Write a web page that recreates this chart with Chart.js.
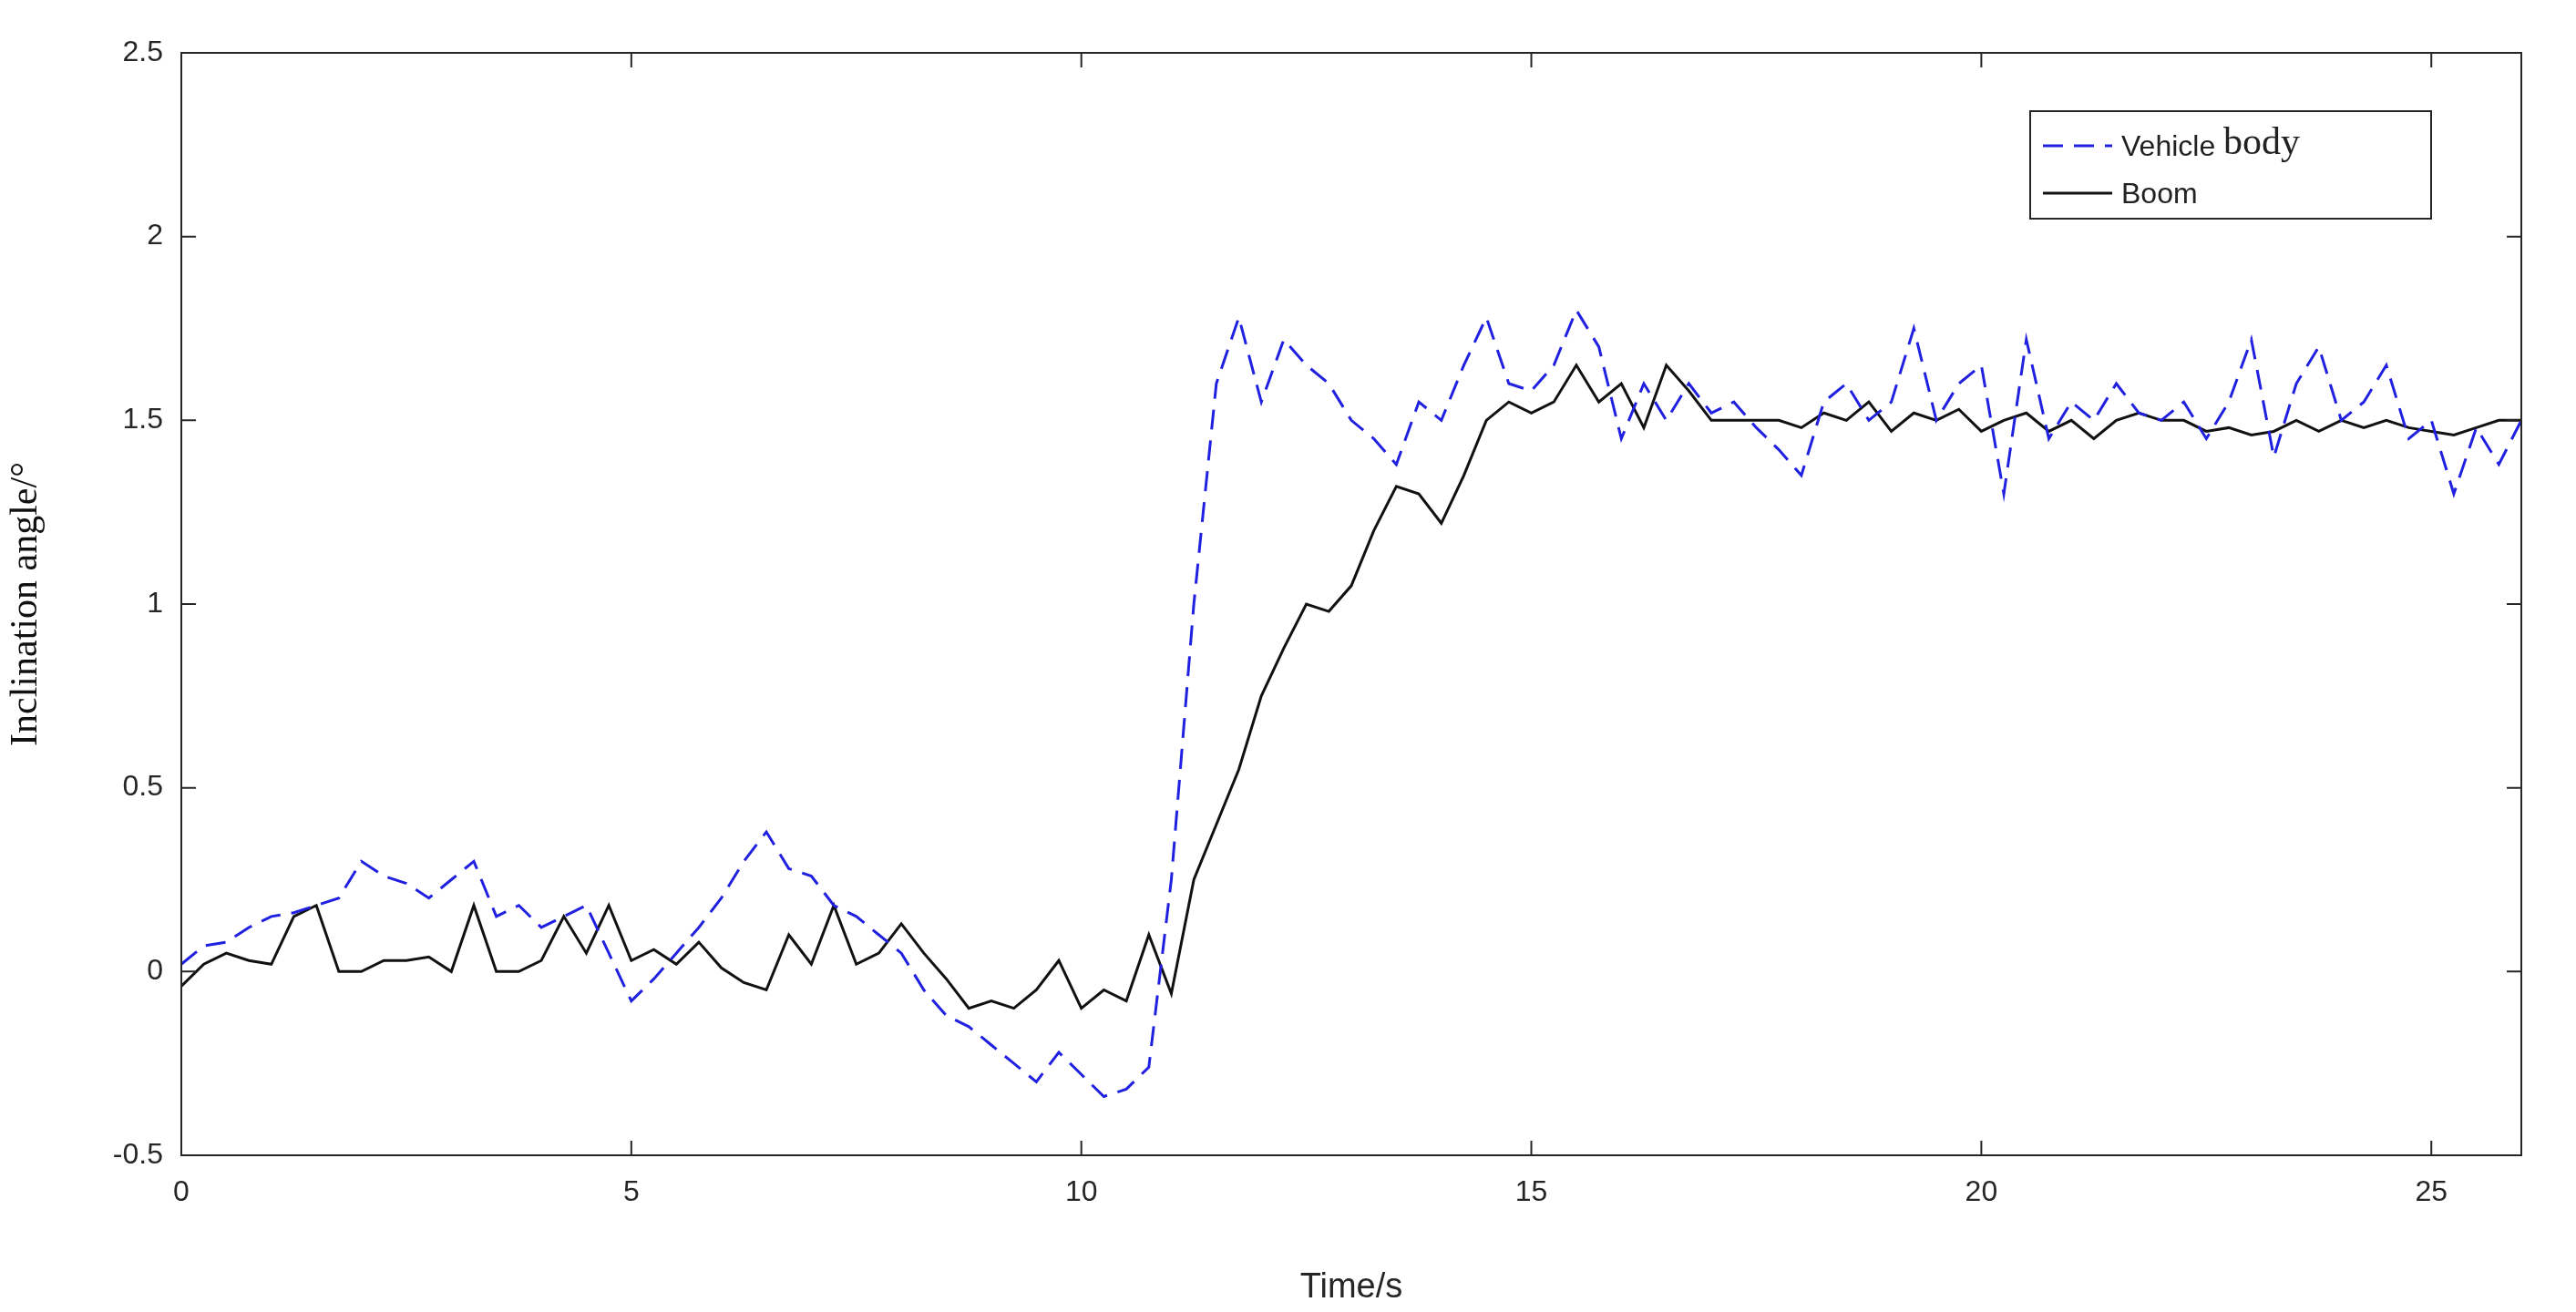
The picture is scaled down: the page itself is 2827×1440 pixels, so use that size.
<!DOCTYPE html>
<html>
<head>
<meta charset="utf-8">
<script src="https://cdn.jsdelivr.net/npm/chart.js@4.4.1/dist/chart.umd.min.js"></script>
<style>
  html, body { margin: 0; padding: 0; background: #fff; }
  #wrap { width: 2827px; height: 1440px; }
</style>
</head>
<body>
<div id="wrap"><canvas id="chart"></canvas></div>
<script>
const times = [0,0.25,0.5,0.75,1,1.25,1.5,1.75,2,2.25,2.5,2.75,3,3.25,3.5,3.75,4,4.25,4.5,4.75,5,5.25,5.5,5.75,6,6.25,6.5,6.75,7,7.25,7.5,7.75,8,8.25,8.5,8.75,9,9.25,9.5,9.75,10,10.25,10.5,10.75,11,11.25,11.5,11.75,12,12.25,12.5,12.75,13,13.25,13.5,13.75,14,14.25,14.5,14.75,15,15.25,15.5,15.75,16,16.25,16.5,16.75,17,17.25,17.5,17.75,18,18.25,18.5,18.75,19,19.25,19.5,19.75,20,20.25,20.5,20.75,21,21.25,21.5,21.75,22,22.25,22.5,22.75,23,23.25,23.5,23.75,24,24.25,24.5,24.75,25,25.25,25.5,25.75,26];

const vehicleBody = [0.02,0.07,0.08,0.12,0.15,0.16,0.18,0.2,0.3,0.26,0.24,0.2,0.25,0.3,0.15,0.18,0.12,0.15,0.18,0.05,-0.08,-0.02,0.05,0.12,0.2,0.3,0.38,0.28,0.26,0.18,0.15,0.1,0.05,-0.05,-0.12,-0.15,-0.2,-0.25,-0.3,-0.22,-0.28,-0.34,-0.32,-0.26,0.25,1.0,1.6,1.78,1.55,1.72,1.65,1.6,1.5,1.45,1.38,1.55,1.5,1.65,1.78,1.6,1.58,1.65,1.8,1.7,1.45,1.6,1.5,1.6,1.52,1.55,1.48,1.42,1.35,1.55,1.6,1.5,1.55,1.75,1.5,1.6,1.65,1.3,1.72,1.45,1.55,1.5,1.6,1.52,1.5,1.55,1.45,1.55,1.72,1.4,1.6,1.7,1.5,1.55,1.65,1.45,1.5,1.3,1.48,1.38,1.5];

const boom = [-0.04,0.02,0.05,0.03,0.02,0.15,0.18,0.0,0.0,0.03,0.03,0.04,0.0,0.18,0.0,0.0,0.03,0.15,0.05,0.18,0.03,0.06,0.02,0.08,0.01,-0.03,-0.05,0.1,0.02,0.18,0.02,0.05,0.13,0.05,-0.02,-0.1,-0.08,-0.1,-0.05,0.03,-0.1,-0.05,-0.08,0.1,-0.06,0.25,0.4,0.55,0.75,0.88,1.0,0.98,1.05,1.2,1.32,1.3,1.22,1.35,1.5,1.55,1.52,1.55,1.65,1.55,1.6,1.48,1.65,1.58,1.5,1.5,1.5,1.5,1.48,1.52,1.5,1.55,1.47,1.52,1.5,1.53,1.47,1.5,1.52,1.47,1.5,1.45,1.5,1.52,1.5,1.5,1.47,1.48,1.46,1.47,1.5,1.47,1.5,1.48,1.5,1.48,1.47,1.46,1.48,1.5,1.5];

const xTicks = [0,5,10,15,20,25];
const yTicks = [-0.5,0,0.5,1,1.5,2,2.5];

const toPts = arr => arr.map((v, i) => ({ x: times[i], y: v }));

// MATLAB-style box with inward ticks, plus the boxed legend in the top right
const boxPlugin = {
  id: 'box',
  afterDraw(chart) {
    const { ctx, chartArea: a, scales: { x, y } } = chart;
    ctx.save();
    ctx.strokeStyle = '#262626';
    ctx.lineWidth = 2;
    ctx.strokeRect(a.left, a.top, a.right - a.left, a.bottom - a.top);
    ctx.beginPath();
    xTicks.forEach(t => {
      const px = x.getPixelForValue(t);
      ctx.moveTo(px, a.bottom); ctx.lineTo(px, a.bottom - 16);
      ctx.moveTo(px, a.top); ctx.lineTo(px, a.top + 16);
    });
    yTicks.forEach(t => {
      const py = y.getPixelForValue(t);
      ctx.moveTo(a.left, py); ctx.lineTo(a.left + 16, py);
      ctx.moveTo(a.right, py); ctx.lineTo(a.right - 16, py);
    });
    ctx.stroke();

    // legend
    const lx = 2228, ly = 122, lw = 440, lh = 118;
    ctx.fillStyle = '#fff';
    ctx.fillRect(lx, ly, lw, lh);
    ctx.lineWidth = 2;
    ctx.strokeStyle = '#262626';
    ctx.strokeRect(lx, ly, lw, lh);
    ctx.lineWidth = 3;
    ctx.strokeStyle = '#2020e0';
    ctx.setLineDash([22, 12]);
    ctx.beginPath(); ctx.moveTo(lx + 14, ly + 38); ctx.lineTo(lx + 90, ly + 38); ctx.stroke();
    ctx.setLineDash([]);
    ctx.strokeStyle = '#111';
    ctx.beginPath(); ctx.moveTo(lx + 14, ly + 90); ctx.lineTo(lx + 90, ly + 90); ctx.stroke();
    ctx.fillStyle = '#222';
    ctx.textBaseline = 'middle';
    ctx.font = '32px "Liberation Sans", Arial';
    ctx.fillText('Vehicle ', lx + 100, ly + 40);
    const w = ctx.measureText('Vehicle ').width;
    ctx.font = '42px "Liberation Serif", serif';
    ctx.fillText('body', lx + 100 + w, ly + 36);
    ctx.font = '32px "Liberation Sans", Arial';
    ctx.fillText('Boom', lx + 100, ly + 92);
    ctx.restore();
  }
};

new Chart(document.getElementById('chart'), {
  type: 'line',
  data: {
    datasets: [
      {
        label: 'Vehicle body',
        data: toPts(vehicleBody),
        borderColor: '#2020e0',
        borderWidth: 3,
        borderDash: [22, 12],
        pointRadius: 0,
        tension: 0
      },
      {
        label: 'Boom',
        data: toPts(boom),
        borderColor: '#111',
        borderWidth: 3,
        pointRadius: 0,
        tension: 0
      }
    ]
  },
  options: {
    responsive: true,
    maintainAspectRatio: false,
    animation: false,
    layout: { padding: { top: 58, right: 60, left: 0, bottom: 0 } },
    plugins: { legend: { display: false }, tooltip: { enabled: false } },
    scales: {
      x: {
        type: 'linear',
        min: 0,
        max: 26,
        afterBuildTicks: s => { s.ticks = xTicks.map(v => ({ value: v })); },
        afterFit: s => { s.height = 172; },
        grid: { display: false },
        border: { display: false },
        ticks: { color: '#262626', font: { size: 32, family: '"Liberation Sans", Arial' }, padding: 14, maxRotation: 0 },
        title: { display: true, text: 'Time/s', color: '#262626', font: { size: 38, family: '"Liberation Sans", Arial' }, padding: { top: 6 } }
      },
      y: {
        min: -0.5,
        max: 2.5,
        afterBuildTicks: s => { s.ticks = yTicks.map(v => ({ value: v })); },
        afterFit: s => { s.width = 199; },
        grid: { display: false },
        border: { display: false },
        ticks: { color: '#262626', font: { size: 32, family: '"Liberation Sans", Arial' }, padding: 12, callback: v => String(v) },
        title: { display: true, text: 'Inclination angle/°', color: '#111', font: { size: 42, family: '"Liberation Serif", serif' }, padding: { bottom: 10 } }
      }
    }
  },
  plugins: [boxPlugin]
});
</script>
</body>
</html>
